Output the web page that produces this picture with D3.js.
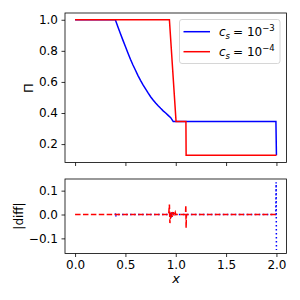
<!DOCTYPE html>
<html>
<head>
<meta charset="utf-8">
<script src="https://cdn.jsdelivr.net/npm/d3@7"></script>
<style>
  body { margin: 0; background: #fff; }
  text { font-family: "DejaVu Sans", sans-serif; fill: #000; }
</style>
</head>
<body>
<div id="chart"></div>
<script>
// ticks
const xTicks = [0, 0.5, 1.0, 1.5, 2.0];
const topTicks = [0.2, 0.4, 0.6, 0.8, 1.0];
const botTicks = [-0.1, 0.0, 0.1];

// Pi profiles
const blueX = [0, 0.4, 0.425, 0.45, 0.475, 0.5, 0.525, 0.55, 0.575, 0.6, 0.625, 0.65, 0.675, 0.7, 0.725,
  0.75, 0.775, 0.8, 0.825, 0.85, 0.875, 0.9, 0.925, 0.95, 0.975, 1.995, 2.0];
const blueP = [1, 1, 0.955, 0.912, 0.869, 0.828, 0.786, 0.746, 0.709, 0.675, 0.641, 0.61, 0.581, 0.555, 0.529,
  0.505, 0.484, 0.465, 0.447, 0.43, 0.414, 0.4, 0.385, 0.37, 0.345, 0.345, 0.128];
const redX = [0, 0.937, 1.003, 1.101, 1.103, 2.0];
const redP = [1, 1, 0.345, 0.345, 0.128, 0.128];

// |diff| profiles
const blueDX = [0.4, 0.402, 0.405, 0.41, 0.94, 0.95, 0.96, 0.97, 0.98, 0.99, 1.994, 1.997, 2.0];
const blueD = [0, 0.005, -0.008, 0, 0, 0.008, -0.006, 0.005, -0.004, 0, 0, 0.135, -0.149];
const redDX = [0, 0.93, 0.937, 0.942, 0.955, 0.965, 0.975, 0.985, 0.995, 1.0, 1.097, 1.1, 1.103, 1.106, 2.0];
const redD = [0, 0, 0.042, -0.036, 0.012, -0.01, 0.01, -0.006, 0.008, 0, 0, 0.039, -0.056, 0, 0];

const legendLabels = ["\u22123", "\u22124"];
const colors = ["#0000ff", "#ff0000"];

const svg = d3.select("#chart").append("svg")
  .attr("width", 300).attr("height", 300);

const x = d3.scaleLinear().domain([-0.1, 2.1]).range([65, 286.5]);
const yTop = d3.scaleLinear().domain([0.0815, 1.0435]).range([162.5, 13]);
const yBot = d3.scaleLinear().domain([-0.1634, 0.1488]).range([253.5, 179]);

const zip = (xs, ys) => xs.map((v, i) => [v, ys[i]]);

const drawAxes = (y, yt, showX) => {
  const [y0, y1] = y.range();
  svg.append("rect")
    .attr("x", 65).attr("y", y1).attr("width", 221.5).attr("height", y0 - y1)
    .attr("fill", "none").attr("stroke", "#000").attr("stroke-width", 0.8);

  const ax = svg.append("g").attr("transform", `translate(0,${y0})`)
    .call(d3.axisBottom(x).tickValues(xTicks).tickSize(3.5).tickPadding(3.5)
      .tickFormat(showX ? d3.format(".1f") : ""));
  const ay = svg.append("g").attr("transform", "translate(65,0)")
    .call(d3.axisLeft(y).tickValues(yt).tickSize(3.5).tickPadding(3.5)
      .tickFormat(d => d3.format(".1f")(d).replace("-", "\u2212")));
  [ax, ay].forEach(g => {
    g.select(".domain").remove();
    g.selectAll(".tick line").attr("stroke", "#000").attr("stroke-width", 0.8);
    g.selectAll(".tick text").attr("font-size", 12).attr("font-family", "DejaVu Sans").attr("fill", "#000");
  });
};

drawAxes(yTop, topTicks, false);
drawAxes(yBot, botTicks, true);

svg.append("clipPath").attr("id", "ct").append("rect")
  .attr("x", 65).attr("y", 13).attr("width", 221.5).attr("height", 149.5);
svg.append("clipPath").attr("id", "cb").append("rect")
  .attr("x", 65).attr("y", 179).attr("width", 221.5).attr("height", 74.5);

const lineTop = d3.line().x(d => x(d[0])).y(d => yTop(d[1]));
const lineBot = d3.line().x(d => x(d[0])).y(d => yBot(d[1]));

svg.append("path").datum(zip(blueX, blueP)).attr("d", lineTop)
  .attr("fill", "none").attr("stroke", colors[0]).attr("stroke-width", 1.5).attr("clip-path", "url(#ct)");
svg.append("path").datum(zip(redX, redP)).attr("d", lineTop)
  .attr("fill", "none").attr("stroke", colors[1]).attr("stroke-width", 1.5).attr("clip-path", "url(#ct)");

svg.append("path").datum(zip(blueDX, blueD)).attr("d", lineBot)
  .attr("fill", "none").attr("stroke", colors[0]).attr("stroke-width", 1.5)
  .attr("stroke-dasharray", "1.5,2.5").attr("clip-path", "url(#cb)");
svg.append("path").datum(zip(redDX, redD)).attr("d", lineBot)
  .attr("fill", "none").attr("stroke", colors[1]).attr("stroke-width", 1.5)
  .attr("stroke-dasharray", "5.5,2.4").attr("clip-path", "url(#cb)");

// axis labels
svg.append("text").attr("transform", "translate(33,88) rotate(-90)")
  .attr("text-anchor", "middle").attr("font-size", 13).text("\u03a0");
svg.append("text").attr("transform", "translate(23,216) rotate(-90)")
  .attr("text-anchor", "middle").attr("font-size", 12).text("|diff|");
svg.append("text").attr("x", 176).attr("y", 283)
  .attr("text-anchor", "middle").attr("font-size", 13).attr("font-style", "italic").text("x");

// legend
const leg = svg.append("g");
leg.append("rect").attr("x", 179.5).attr("y", 19.5).attr("width", 100.5).attr("height", 44)
  .attr("rx", 2.5).attr("fill", "#fff").attr("fill-opacity", 0.8)
  .attr("stroke", "#cccccc").attr("stroke-width", 0.8);
legendLabels.forEach((lab, i) => {
  const ly = 31.7 + i * 20;
  leg.append("line").attr("x1", 183.5).attr("x2", 210).attr("y1", ly).attr("y2", ly)
    .attr("stroke", colors[i]).attr("stroke-width", 1.5);
  const t = leg.append("text").attr("x", 219).attr("y", ly + 4.5).attr("font-size", 12);
  t.append("tspan").attr("font-style", "italic").text("c");
  t.append("tspan").attr("font-style", "italic").attr("font-size", 8.5).attr("dy", 2.5).text("s");
  t.append("tspan").attr("dy", -2.5).attr("dx", 3).text("= 10");
  t.append("tspan").attr("font-size", 8.5).attr("dy", -5).text(lab);
});
</script>
</body>
</html>
